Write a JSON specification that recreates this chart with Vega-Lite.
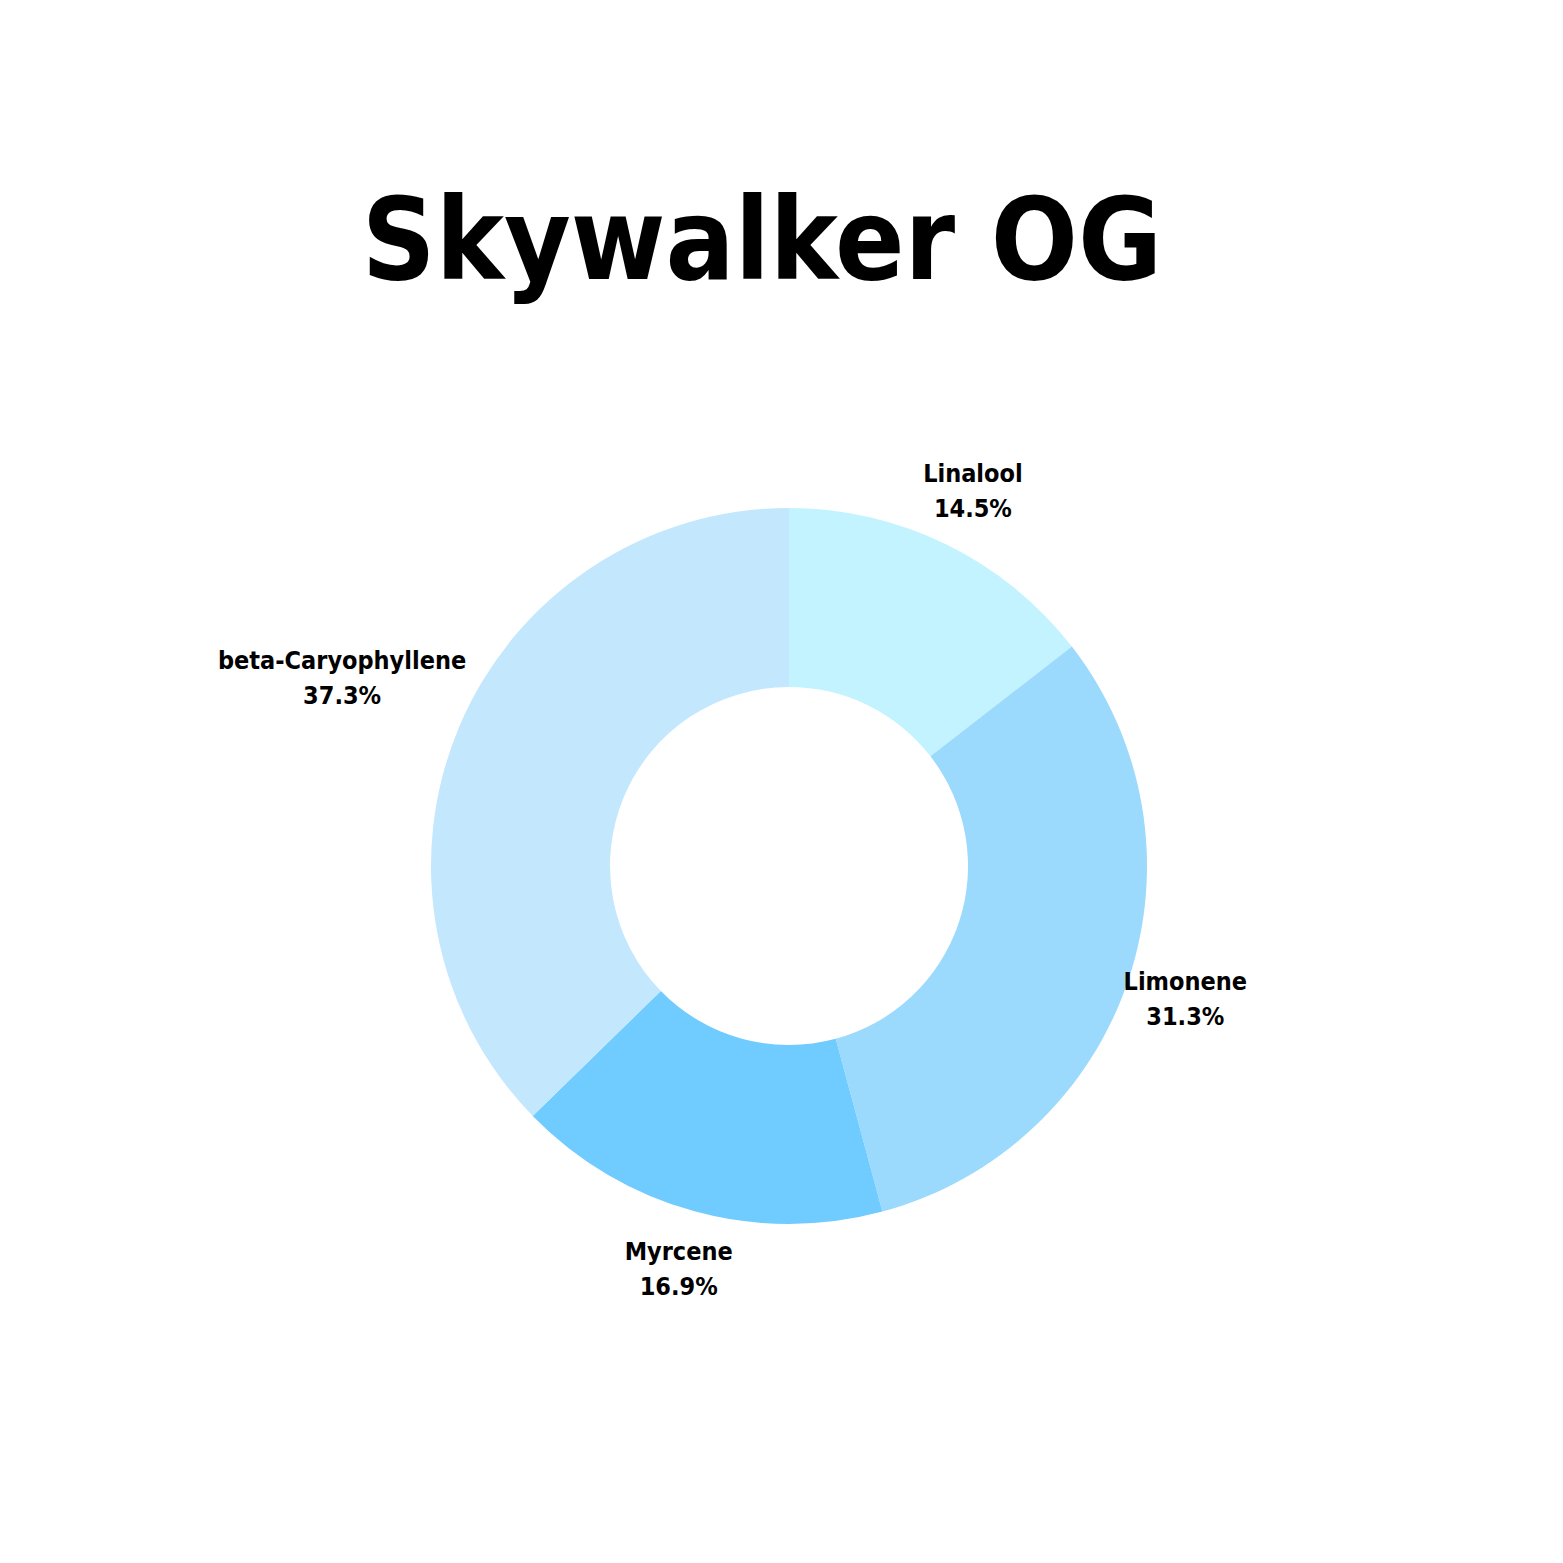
{
  "$schema": "https://vega.github.io/schema/vega-lite/v6.json",
  "width": 1578,
  "height": 1000,
  "autosize": {"type": "none"},
  "padding": {"top": 366, "left": 0, "right": 0, "bottom": 0},
  "background": "white",
  "view": {"stroke": null},
  "title": {
    "text": "Skywalker OG",
    "font": "'Liberation Sans Narrow', 'Arial Narrow', 'DejaVu Sans Condensed', 'Roboto Condensed', sans-serif",
    "fontSize": 114,
    "fontWeight": "bold",
    "color": "black",
    "anchor": "middle",
    "baseline": "alphabetic",
    "offset": -27,
    "dx": -27
  },
  "data": {
    "values": [
      {"terpene": "Linalool", "share": 0.145},
      {"terpene": "Limonene", "share": 0.313},
      {"terpene": "Myrcene", "share": 0.169},
      {"terpene": "beta-Caryophyllene", "share": 0.373}
    ]
  },
  "transform": [{"window": [{"op": "row_number", "as": "idx"}]}],
  "encoding": {
    "theta": {"field": "share", "type": "quantitative", "stack": true},
    "order": {"field": "idx", "type": "quantitative"}
  },
  "layer": [
    {
      "mark": {"type": "arc", "outerRadius": 358, "innerRadius": 179},
      "encoding": {
        "color": {
          "field": "terpene",
          "type": "nominal",
          "legend": null,
          "scale": {
            "domain": ["Linalool", "Limonene", "Myrcene", "beta-Caryophyllene"],
            "range": ["#c2f3fe", "#9bdafd", "#70cbfe", "#c3e7fd"]
          }
        }
      }
    },
    {
      "mark": {"type": "text", "radius": 418, "dy": -17, "font": "'Liberation Sans Narrow', 'Arial Narrow', 'DejaVu Sans Condensed', 'Roboto Condensed', sans-serif", "fontWeight": "bold", "fontSize": 25, "color": "black"},
      "encoding": {
        "text": {"field": "terpene"},
        "opacity": {"condition": {"test": "datum.terpene === 'beta-Caryophyllene'", "value": 0}, "value": 1}
      }
    },
    {
      "mark": {"type": "text", "radius": 418, "dy": 18, "font": "'Liberation Sans Narrow', 'Arial Narrow', 'DejaVu Sans Condensed', 'Roboto Condensed', sans-serif", "fontWeight": "bold", "fontSize": 25, "color": "black"},
      "encoding": {
        "text": {"field": "share", "format": ".1%"},
        "opacity": {"condition": {"test": "datum.terpene === 'beta-Caryophyllene'", "value": 0}, "value": 1}
      }
    },
    {
      "mark": {"type": "text", "radius": 485, "dy": -17, "font": "'Liberation Sans Narrow', 'Arial Narrow', 'DejaVu Sans Condensed', 'Roboto Condensed', sans-serif", "fontWeight": "bold", "fontSize": 25, "color": "black"},
      "encoding": {
        "text": {"field": "terpene"},
        "opacity": {"condition": {"test": "datum.terpene === 'beta-Caryophyllene'", "value": 1}, "value": 0}
      }
    },
    {
      "mark": {"type": "text", "radius": 485, "dy": 18, "font": "'Liberation Sans Narrow', 'Arial Narrow', 'DejaVu Sans Condensed', 'Roboto Condensed', sans-serif", "fontWeight": "bold", "fontSize": 25, "color": "black"},
      "encoding": {
        "text": {"field": "share", "format": ".1%"},
        "opacity": {"condition": {"test": "datum.terpene === 'beta-Caryophyllene'", "value": 1}, "value": 0}
      }
    }
  ]
}
